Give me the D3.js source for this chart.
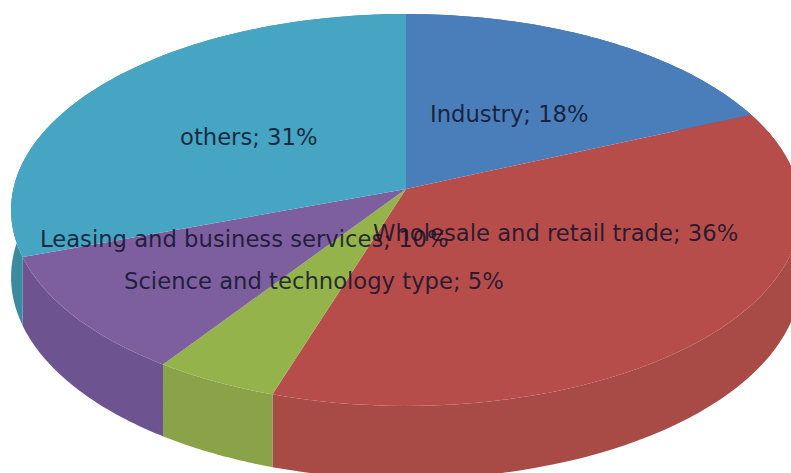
<!DOCTYPE html>
<html><head><meta charset="utf-8">
<style>html,body{margin:0;padding:0;background:#fff}svg{display:block}</style>
<script src="https://cdn.jsdelivr.net/npm/d3@7/dist/d3.min.js"></script>
</head><body><svg id="c" width="791" height="473"></svg>
<script>
const categories = ["Industry", "Wholesale and retail trade", "Science and technology type", "Leasing and business services", "others"];
const shares = [18.45, 36.49, 4.6, 9.96, 30.5];
const percentLabels = [18, 36, 5, 10, 31];
const topColors = ["#4a7ebb", "#b74d4a", "#94b34a", "#7d5fa0", "#46a5c3"];
const sideColors = ["#3f6b9f", "#a84a45", "#8aa349", "#6d5491", "#3a8aa0"];
const labelAnchors = [[430,121.5],[373,240.5],[124,288.5],[40,247],[180,145]];

const svg = d3.select("#c");
const persp = 0.107, A = 392.7, cx = 406;
const topPlane = {cy: 189, B: 193.7};
const botPlane = {cy: 255.4, B: 199.7};

function project(theta, r, plane){
  const u = r * Math.sin(theta), v = -r * Math.cos(theta);
  const w = 1 - persp * v;
  return [cx + A * u / w, plane.cy + plane.B * v / w];
}
const arcs = d3.pie().sort(null).value(d => d)(shares);
const line = d3.line();
const samples = a => d3.range(0, 61).map(i => a.startAngle + (a.endAngle - a.startAngle) * i / 60);

const g = svg.append("g");
g.selectAll("path.side").data(arcs).join("path").attr("class","side")
  .attr("fill", (d,i) => sideColors[i])
  .attr("d", d => {
    const s = samples(d);
    return line(s.map(t => project(t,1,topPlane)).concat(s.slice().reverse().map(t => project(t,1,botPlane)))) + "Z";
  });
g.selectAll("path.top").data(arcs).join("path").attr("class","top")
  .attr("fill", (d,i) => topColors[i])
  .attr("d", d => line([project(0,0,topPlane)].concat(samples(d).map(t => project(t,1,topPlane)))) + "Z");

svg.selectAll("text").data(categories).join("text")
  .attr("x", (d,i) => labelAnchors[i][0])
  .attr("y", (d,i) => labelAnchors[i][1])
  .attr("font-family","'DejaVu Sans'")
  .attr("font-size", 22.7)
  .attr("fill", "#10122a")
  .attr("fill-opacity", 0.85)
  .text((d,i) => `${d}; ${percentLabels[i]}%`);
</script></body></html>
